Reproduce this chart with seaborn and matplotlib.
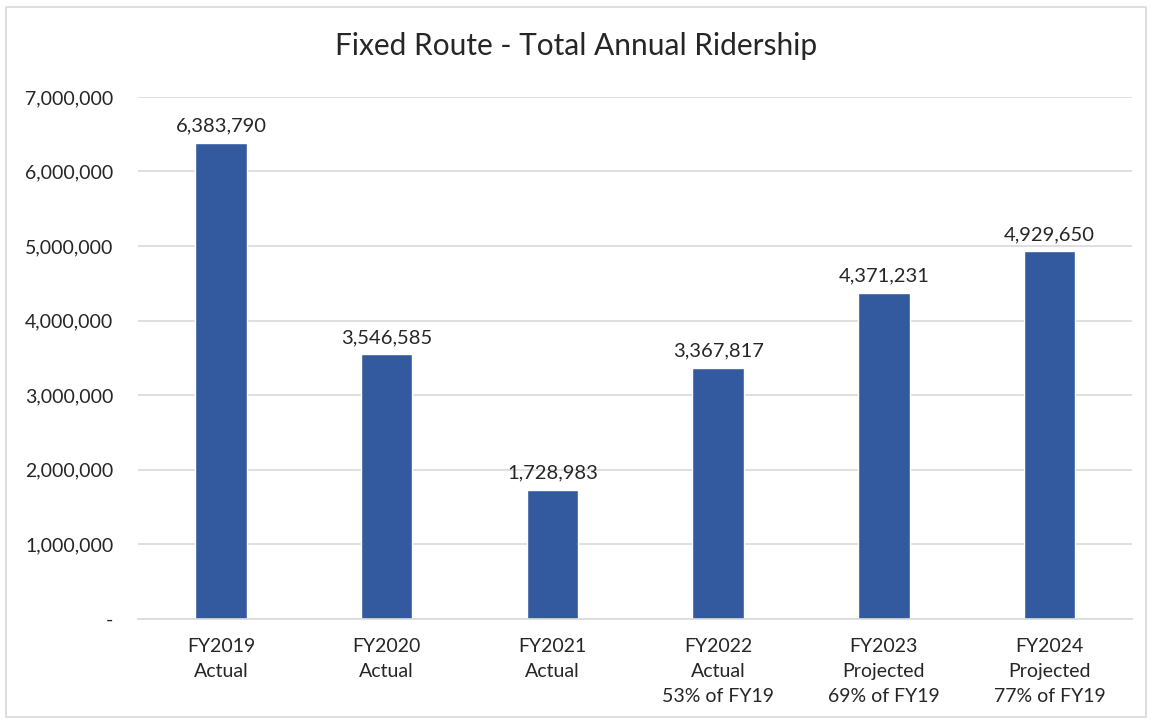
import numpy as np
import pandas as pd
import matplotlib
matplotlib.use("Agg")
import matplotlib.pyplot as plt
import seaborn as sns
from matplotlib.patches import Rectangle

# Daten
categories = ["FY2019\nActual", "FY2020\nActual", "FY2021\nActual",
              "FY2022\nActual\n53% of FY19", "FY2023\nProjected\n69% of FY19",
              "FY2024\nProjected\n77% of FY19"]
ridership = [6383790, 3546585, 1728983, 3367817, 4371231, 4929650]
y_ticks = [0, 1000000, 2000000, 3000000, 4000000, 5000000, 6000000, 7000000]

df = pd.DataFrame({"category": categories, "ridership": ridership})

sns.set_style("white")
plt.rcParams["font.family"] = ["Lato", "DejaVu Sans"]

fig = plt.figure(figsize=(11.52, 7.23), dpi=100)
ax = fig.add_axes([0.120, 0.144, 0.863, 0.722])

sns.barplot(data=df, x="category", y="ridership", color="#335a9f",
            width=0.31, saturation=1, ax=ax)

# Datenbeschriftung
for i, v in enumerate(ridership):
    ax.text(i, v + 110000, f"{v:,}", ha="center", va="bottom",
            fontsize=14.5, color="#262626")

ax.set_ylim(0, 7000000)
ax.set_yticks(y_ticks)
ax.set_yticklabels(["-"] + [f"{t:,}" for t in y_ticks[1:]])
ax.yaxis.grid(True, color="#d9d9d9", linewidth=1.2)
ax.set_axisbelow(True)
for s in ["top", "right", "left"]:
    ax.spines[s].set_visible(False)
ax.spines["bottom"].set_color("#d9d9d9")
ax.spines["bottom"].set_linewidth(1.2)
ax.tick_params(axis="both", length=0, labelsize=14, colors="#262626")
ax.tick_params(axis="y", pad=18)
ax.tick_params(axis="x", pad=14)
for lbl in ax.get_xticklabels():
    lbl.set_linespacing(1.55)
ax.set_xlabel("")
ax.set_ylabel("")

fig.text(0.5, 0.937, "Fixed Route - Total Annual Ridership", ha="center",
         va="center", fontsize=21.5, color="#262626")

# Rahmen
fig.patches.append(Rectangle((0.005, 0.008), 0.99, 0.982, transform=fig.transFigure,
                             fill=False, edgecolor="#d9d9d9", linewidth=1.2))

fig.savefig("out.png", dpi=100)
